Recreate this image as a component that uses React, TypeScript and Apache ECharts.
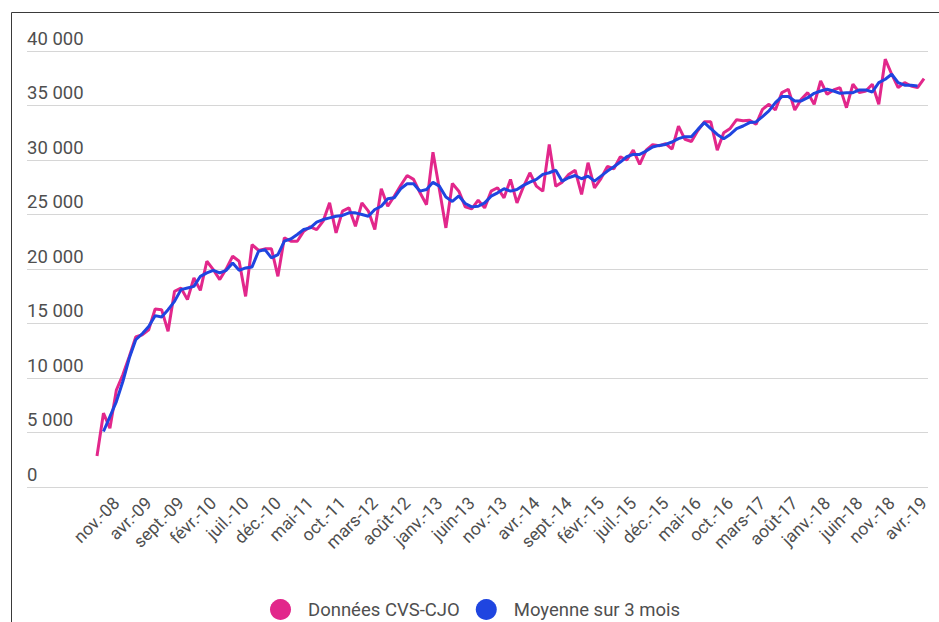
import React, { useEffect, useRef } from "react";
import * as echarts from "echarts";

const MONTHS = ["janv.", "févr.", "mars", "avr.", "mai", "juin", "juil.", "août", "sept.", "oct.", "nov.", "déc."];
const START_MONTH = 7; // août
const START_YEAR = 8; // 2008

const DONNEES = [
  2850, 6770, 5390, 8900, 10300, 11980, 13760, 13970, 14430, 16330,
  16270, 14280, 17950, 18260, 17190, 19180, 18040, 20710, 19940, 19030,
  20010, 21170, 20710, 17490, 22240, 21700, 21850, 21850, 19330, 22860,
  22550, 22550, 23470, 23870, 23620, 24390, 26070, 23310, 25310, 25610,
  23920, 26070, 25310, 23620, 27360, 25760, 26680, 27660, 28580, 28220,
  26990, 25900, 30720, 27300, 23770, 27850, 27140, 25700, 25520, 26310,
  25610, 27140, 27450, 26530, 28220, 26070, 27540, 28830, 27600, 27140,
  31430, 27600, 27970, 28680, 29070, 26840, 29750, 27450, 28300, 29400,
  29200, 30300, 30000, 30900, 29600, 30900, 31400, 31300, 31500, 31000,
  33100, 31900, 31700, 32700, 33500, 33500, 30900, 32500, 32900, 33700,
  33600, 33650, 33270, 34650, 35110, 34590, 36180, 36490, 34590, 35570,
  36180, 35110, 37250, 36030, 36430, 36640, 34800, 36950, 36180, 36330,
  36950, 35110, 39250, 37870, 36640, 37100, 36790, 36640, 37470,
];

const MOYENNE = [
  null, 5090, 6460, 7840, 9680, 11830, 13510, 14060, 14730, 15720,
  15600, 16270, 17030, 18110, 18260, 18410, 19330, 19640, 19880, 19640,
  19880, 20560, 19880, 20100, 20190, 21630, 21780, 21020, 21320, 22550,
  22760, 23160, 23620, 23770, 24290, 24540, 24690, 24840, 24910, 25150,
  25150, 25000, 24840, 25460, 25760, 26440, 26530, 27360, 27820, 27820,
  27140, 27300, 27950, 27600, 26600, 26200, 26700, 26010, 25700, 25760,
  26070, 26680, 26990, 27360, 27140, 27300, 27670, 27970, 28220, 28680,
  28830, 29070, 28060, 28370, 28580, 28280, 28520, 28060, 28520, 28980,
  29380, 29810, 30300, 30510, 30510, 30820, 31190, 31340, 31430, 31650,
  31960, 32140, 32140, 32810, 33430, 32880, 32350, 31960, 32350, 32880,
  33120, 33430, 33490, 33980, 34500, 35260, 35820, 35820, 35410, 35410,
  35720, 36120, 36330, 36490, 36330, 36120, 36180, 36180, 36430, 36430,
  36240, 37100, 37410, 37870, 37100, 36860, 36860, 36790, null,
];

const CATEGORIES = DONNEES.map((_, i) => {
  const m = (START_MONTH + i) % 12;
  const y = START_YEAR + Math.floor((START_MONTH + i) / 12);
  return `${MONTHS[m]}-${String(y).padStart(2, "0")}`;
});

const FIRST_LABEL = 3; // nov.-08
const LABEL_STEP = 5;

const PINK = "#e2278b";
const BLUE = "#1f45e0";
const TEXT = "#4f4f4f";
const FONT = "Roboto, 'Noto Sans', sans-serif";

const fmt = (v: number) => String(v).replace(/\B(?=(\d{3})+(?!\d))/g, " ");

export default function App() {
  const ref = useRef<HTMLDivElement>(null);
  useEffect(() => {
    if (!ref.current) return;
    const chart = echarts.init(ref.current, null, { renderer: "svg" });
    chart.setOption({
      animation: false,
      backgroundColor: "#ffffff",
      textStyle: { fontFamily: FONT },
      graphic: [
        {
          type: "rect",
          left: 9,
          top: 10,
          shape: { width: 1000, height: 1000 },
          style: { fill: "none", stroke: "#3a3a3a", lineWidth: 1 },
          silent: true,
        },
      ],
      grid: [
        { left: 97, right: 15, top: 51, bottom: 135 },
        { left: 27, right: 11, top: 51, bottom: 135 },
      ],
      xAxis: [
        {
          type: "category",
          gridIndex: 0,
          data: CATEGORIES,
          boundaryGap: false,
          axisLine: { show: false },
          axisTick: { show: false },
          axisLabel: {
            rotate: 45,
            interval: (idx: number) => idx >= FIRST_LABEL && (idx - FIRST_LABEL) % LABEL_STEP === 0,
            color: TEXT,
            fontSize: 17.5,
            fontFamily: FONT,
            margin: 13,
          },
          splitLine: { show: false },
        },
        { type: "value", gridIndex: 1, min: 0, max: 1, show: false },
      ],
      yAxis: [
        { type: "value", gridIndex: 0, min: 0, max: 40000, show: false },
        {
          type: "value",
          gridIndex: 1,
          min: 0,
          max: 40000,
          interval: 5000,
          axisLine: { show: false },
          axisTick: { show: false },
          axisLabel: {
            inside: true,
            margin: 0,
            verticalAlign: "bottom",
            padding: [0, 0, 3, 0],
            color: TEXT,
            fontSize: 18.5,
            fontFamily: FONT,
            formatter: (v: number) => fmt(v),
          },
          splitLine: { lineStyle: { color: "#d6d6d6", width: 1 } },
        },
      ],
      legend: {
        top: 594,
        left: 265,
        icon: "circle",
        itemWidth: 21,
        itemHeight: 21,
        itemGap: 16,
        textStyle: { color: TEXT, fontSize: 18.5, fontFamily: FONT, padding: [0, 0, 0, 12] },
        data: ["Données CVS-CJO", "Moyenne sur 3 mois"],
      },
      series: [
        {
          name: "Données CVS-CJO",
          type: "line",
          xAxisIndex: 0,
          yAxisIndex: 0,
          data: DONNEES,
          showSymbol: false,
          symbol: "none",
          lineStyle: { color: PINK, width: 3 },
          itemStyle: { color: PINK },
          z: 3,
        },
        {
          name: "Moyenne sur 3 mois",
          type: "line",
          xAxisIndex: 0,
          yAxisIndex: 0,
          data: MOYENNE,
          showSymbol: false,
          symbol: "none",
          connectNulls: false,
          lineStyle: { color: BLUE, width: 3 },
          itemStyle: { color: BLUE },
          z: 4,
        },
      ],
    });
    return () => chart.dispose();
  }, []);
  return (
    <div
      ref={ref}
      style={{ position: "fixed", left: 0, top: 0, width: 939, height: 622, background: "#fff" }}
    />
  );
}
